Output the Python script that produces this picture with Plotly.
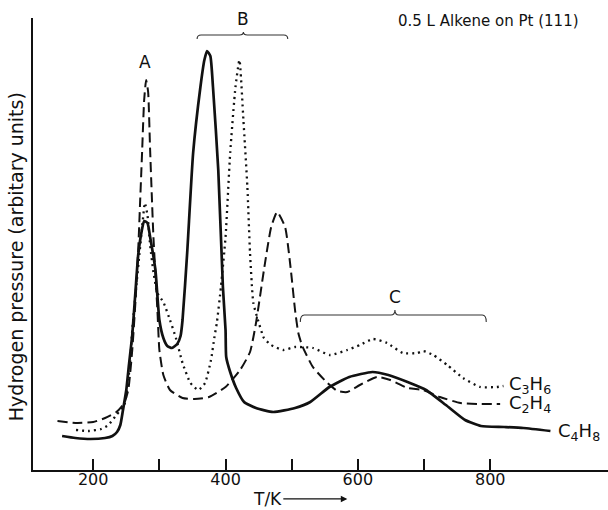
import plotly.graph_objects as go

# ---- data (T in K, hydrogen signal in arbitrary units) ----
t_c4h8 = [153, 173, 196, 218, 229, 236, 241, 245, 250, 254, 259, 264, 268, 273, 277, 282, 286,
          294, 300, 306, 312, 319, 327, 332, 335, 342, 351, 362, 368, 372, 377, 381, 389, 396,
          400, 401, 407, 416, 428, 446, 472, 505, 528, 557, 587, 622, 646, 675, 703, 733, 762,
          786, 821, 850, 891]
v_c4h8 = [34, 32, 31, 32, 34, 38, 45, 60, 80, 105, 135, 180, 215, 238, 249, 247, 233,
          200, 150, 132, 124, 122, 126, 134, 150, 217, 317, 383, 410, 419, 414, 383, 300, 183,
          140, 113, 98, 82, 68, 62, 58, 62, 68, 83, 93, 98, 95, 88, 80, 65, 50,
          44, 43, 42, 39]

t_c2h4 = [146, 176, 200, 218, 235, 247, 253, 259, 264, 268, 271, 274, 277, 280, 283, 286, 291,
          297, 300, 306, 316, 335, 353, 375, 400, 422, 437, 446, 458, 469, 478, 490, 499, 505,
          510, 516, 532, 554, 569, 584, 603, 629, 649, 675, 699, 724, 755, 785, 815]
v_c2h4 = [49, 47, 48, 52, 58, 67, 80, 120, 170, 220, 270, 320, 370, 390, 378, 320, 233,
          160, 120, 95, 80, 72, 71, 73, 83, 100, 118, 147, 200, 243, 258, 243, 198, 160,
          137, 124, 103, 87, 79, 78, 85, 93, 90, 82, 80, 73, 67, 66, 66]

t_c3h6 = [174, 194, 212, 223, 235, 247, 253, 256, 259, 265, 270, 275, 278, 282, 286, 291, 297,
          306, 316, 325, 335, 347, 359, 369, 378, 383, 387, 393, 400, 407, 415, 421, 427, 433,
          437, 442, 449, 458, 469, 487, 505, 532, 558, 584, 603, 623, 644, 668, 690, 699, 714,
          735, 759, 785, 810, 820]
v_c3h6 = [40, 39, 41, 45, 55, 65, 90, 110, 140, 183, 217, 250, 267, 255, 225, 198, 177,
          168, 150, 132, 107, 87, 80, 87, 110, 132, 148, 183, 233, 317, 383, 410, 350, 283,
          217, 167, 150, 132, 125, 120, 123, 122, 115, 120, 125, 131, 127, 117, 117, 119, 115,
          105, 92, 83, 83, 84]

x_major_ticks = [200, 400, 600, 800]
x_minor_ticks = [300, 500, 700]

# bracket geometry (data units): left end, apex, right end ; end level, bar level, apex level
bracket_b_x = [357, 427, 494]
bracket_b_y = [431, 435, 438]
bracket_c_x = [513, 656, 794]
bracket_c_y = [148, 155, 160]

FONT = "DejaVu Sans"
INK = "#111111"

fig = go.Figure()
fig.add_trace(go.Scatter(x=t_c3h6, y=v_c3h6, mode="lines", name="C3H6",
                         line=dict(color=INK, width=2.3, dash="2px,4px", shape="spline", smoothing=0.5)))
fig.add_trace(go.Scatter(x=t_c2h4, y=v_c2h4, mode="lines", name="C2H4",
                         line=dict(color=INK, width=2.0, dash="10px,5px", shape="spline", smoothing=0.5)))
fig.add_trace(go.Scatter(x=t_c4h8, y=v_c4h8, mode="lines", name="C4H8",
                         line=dict(color=INK, width=2.7, shape="spline", smoothing=0.5)))


def bracket_path(xs, ys):
    x0, xm, x1 = xs
    ye, yb, ya = ys
    r = 6
    return (f"M {x0},{ye} Q {x0},{yb} {x0 + r},{yb} L {xm - r},{yb} "
            f"Q {xm},{yb} {xm},{ya} Q {xm},{yb} {xm + r},{yb} "
            f"L {x1 - r},{yb} Q {x1},{yb} {x1},{ye}")


for bx, by in [(bracket_b_x, bracket_b_y), (bracket_c_x, bracket_c_y)]:
    fig.add_shape(type="path", path=bracket_path(bx, by), xref="x", yref="y",
                  line=dict(color="#333333", width=1.1))

ann_font = dict(family=FONT, size=17, color=INK)
lab_font = dict(family=FONT, size=18, color=INK)
annotations = [
    dict(x=279, y=408, text="A", showarrow=False, font=ann_font),
    dict(x=427, y=451, text="B", showarrow=False, font=ann_font),
    dict(x=656, y=173, text="C", showarrow=False, font=ann_font),
    dict(x=826, y=85, text="C<sub>3</sub>H<sub>6</sub>", showarrow=False, xanchor="left", font=lab_font),
    dict(x=826, y=66, text="C<sub>2</sub>H<sub>4</sub>", showarrow=False, xanchor="left", font=lab_font),
    dict(x=900, y=38, text="C<sub>4</sub>H<sub>8</sub>", showarrow=False, xanchor="left", font=lab_font),
    dict(x=798, y=449, text="0.5 L Alkene on Pt (111)", showarrow=False,
         font=dict(family=FONT, size=15, color=INK)),
    dict(xref="paper", yref="paper", x=-0.0296, y=0.473, xanchor="center", yanchor="middle",
         text="Hydrogen pressure (arbitary units)",
         textangle=-90, showarrow=False, font=dict(family=FONT, size=19, color=INK)),
    dict(x=584, xref="x", yref="paper", y=-0.064, text="T/K", showarrow=True,
         ax=-80, ay=0, arrowhead=2, arrowsize=1, arrowwidth=1.3, arrowcolor=INK,
         font=dict(family=FONT, size=17, color=INK)),
]
for a in annotations:
    fig.add_annotation(**a)

fig.update_layout(
    width=608, height=510,
    margin=dict(l=33, r=0, t=18, b=40),
    paper_bgcolor="white", plot_bgcolor="white",
    showlegend=False,
    font=dict(family=FONT, color=INK),
    xaxis=dict(range=[109, 978], showline=True, linecolor=INK, linewidth=1.6,
               ticks="inside", ticklen=11, tickwidth=1.5, tickcolor=INK,
               tickmode="array", tickvals=x_major_ticks,
               minor=dict(tickmode="array", tickvals=x_minor_ticks, ticks="inside",
                          ticklen=11, tickwidth=1.5, tickcolor=INK, showgrid=False),
               tickfont=dict(family=FONT, size=16, color=INK),
               ticklabelstandoff=-6,
               showgrid=False, zeroline=False),
    yaxis=dict(range=[0, 452], showline=True, linecolor=INK, linewidth=1.6,
               showticklabels=False, ticks="", showgrid=False, zeroline=False),
)

fig.write_html("out.html")
